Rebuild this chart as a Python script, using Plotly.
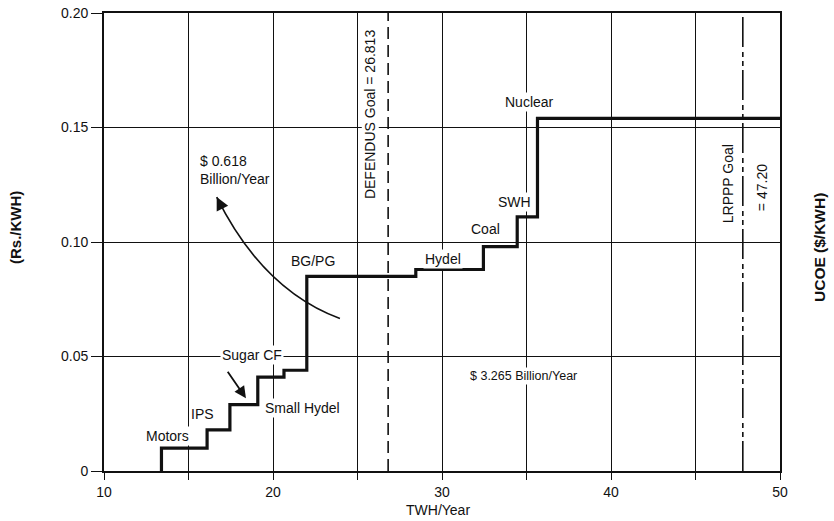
import plotly.graph_objects as go

# ---- data ----
step_starts = [13.4, 16.1, 17.45, 19.1, 20.65, 22.0, 28.45, 32.45, 34.45, 35.65]   # TWH/Year where each tier starts
step_levels = [0.010, 0.018, 0.029, 0.041, 0.044, 0.085, 0.088, 0.098, 0.111, 0.154]  # Rs./KWH
x_end = 50.0

defendus_goal = 26.813
lrppp_line_x = 47.8

x_tickvals = [10, 15, 20, 25, 30, 35, 40, 45, 50]
x_ticktext = ["10", "", "20", "", "30", "", "40", "", "50"]
y_tickvals = [0, 0.05, 0.10, 0.15, 0.20]
y_ticktext = ["0", "0.05", "0.10", "0.15", "0.20"]

# tier labels: (text, x, y)
tier_labels = [
    ("Motors", 13.77, 0.0155),
    ("IPS", 15.8, 0.0247),
    ("Sugar CF", 18.74, 0.0505),
    ("Small Hydel", 21.73, 0.0274),
    ("BG/PG", 22.35, 0.0917),
    ("Hydel", 30.05, 0.0927),
    ("Coal", 32.55, 0.1055),
    ("SWH", 34.3, 0.1175),
    ("Nuclear", 35.2, 0.1613),
]

# curved arrow (quadratic curve: start, control, tip)
curve_start = (23.96, 0.0666)
curve_ctrl = (19.4, 0.0790)
curve_tip = (16.67, 0.1196)

FONT = "Liberation Sans, Arial, Helvetica, sans-serif"
INK = "#111111"

W, H = 834, 521
ML, MR, MT, MB = 104, 54, 13, 50
PW, PH = W - ML - MR, H - MT - MB
PX0, PY0 = ML, MT + PH   # pixel of (x=10, y=0)


def paper_x(px):
    return (px - PX0) / PW


def paper_y(py):
    return (PY0 - py) / PH


step_x = [step_starts[0]] + step_starts + [x_end]
step_y = [0] + step_levels + [step_levels[-1]]

fig = go.Figure()

# dashed goal lines
fig.add_trace(go.Scatter(x=[defendus_goal, defendus_goal], y=[0, 0.2], mode="lines",
                         line=dict(color=INK, width=1.6, dash="12px,6px"), hoverinfo="skip"))
fig.add_trace(go.Scatter(x=[lrppp_line_x, lrppp_line_x], y=[0, 0.2], mode="lines",
                         line=dict(color=INK, width=1.6, dash="30px,4px,5px,4px,5px,5px"), hoverinfo="skip"))

# step supply curve
fig.add_trace(go.Scatter(x=step_x, y=step_y, mode="lines", line=dict(color=INK, width=3.2, shape="hv"),
                         hoverinfo="skip"))

# curved arrow body
fig.add_shape(type="path", xref="x", yref="y",
              path="M {} {} Q {} {} {} {}".format(curve_start[0], curve_start[1], curve_ctrl[0], curve_ctrl[1],
                                                  curve_tip[0], curve_tip[1]),
              line=dict(color=INK, width=1.6))

annotations = []
for text, x, y in tier_labels:
    annotations.append(dict(x=x, y=y, xref="x", yref="y", text=text, showarrow=False,
                            font=dict(family=FONT, size=14, color=INK), bgcolor="white", borderpad=1))

# Sugar CF arrow
annotations.append(dict(x=18.4, y=0.0318, ax=17.26, ay=0.0440, xref="x", yref="y", axref="x", ayref="y",
                        text="", showarrow=True, arrowhead=2, arrowsize=1.3, arrowwidth=1.8, arrowcolor=INK))
# curved arrow head (along end tangent)
tail_x = curve_tip[0] - 0.12 * (curve_tip[0] - curve_ctrl[0])
tail_y = curve_tip[1] - 0.12 * (curve_tip[1] - curve_ctrl[1])
annotations.append(dict(x=curve_tip[0], y=curve_tip[1], ax=tail_x, ay=tail_y, xref="x", yref="y",
                        axref="x", ayref="y", text="", showarrow=True, arrowhead=2, arrowsize=1.6,
                        arrowwidth=1.6, arrowcolor=INK))

annotations += [
    dict(x=15.62, y=0.1315, xref="x", yref="y", text="$ 0.618<br>Billion/Year", showarrow=False,
         xanchor="left", align="left", font=dict(family=FONT, size=14, color=INK), bgcolor="white", borderpad=0),
    dict(x=34.85, y=0.0415, xref="x", yref="y", text="$ 3.265 Billion/Year", showarrow=False,
         font=dict(family=FONT, size=12.5, color=INK), bgcolor="white", borderpad=1),
    dict(x=25.75, y=0.1555, xref="x", yref="y", text="DEFENDUS Goal = 26.813", textangle=-90, showarrow=False,
         font=dict(family=FONT, size=14, color=INK), bgcolor="white", borderpad=0),
    dict(x=46.9, y=0.1255, xref="x", yref="y", text="LRPPP Goal", textangle=-90, showarrow=False,
         font=dict(family=FONT, size=14, color=INK), bgcolor="white", borderpad=0),
    dict(x=48.9, y=0.1237, xref="x", yref="y", text="= 47.20", textangle=-90, showarrow=False,
         font=dict(family=FONT, size=14, color=INK), bgcolor="white", borderpad=0),
    # axis titles
    dict(x=paper_x(438), y=paper_y(510), xref="paper", yref="paper", text="TWH/Year",
         xanchor="center", yanchor="middle", showarrow=False, font=dict(family=FONT, size=14, color=INK)),
    dict(x=paper_x(15), y=paper_y(228), xref="paper", yref="paper", text="<b>(Rs./KWH)</b>",
         xanchor="center", yanchor="middle", textangle=-90, showarrow=False,
         font=dict(family=FONT, size=15, color=INK)),
    dict(x=paper_x(820), y=paper_y(248), xref="paper", yref="paper", text="<b>UCOE ($/KWH)</b>",
         xanchor="center", yanchor="middle", textangle=-90, showarrow=False,
         font=dict(family=FONT, size=15.5, color=INK)),
]

fig.update_layout(
    width=W, height=H,
    margin=dict(l=ML, r=MR, t=MT, b=MB),
    paper_bgcolor="white", plot_bgcolor="white",
    showlegend=False,
    annotations=annotations,
    font=dict(family=FONT, size=14, color=INK),
)
fig.update_xaxes(range=[10, 50], tickvals=x_tickvals, ticktext=x_ticktext, showgrid=True, gridcolor=INK,
                 gridwidth=1.4, showline=True, linecolor=INK, linewidth=1.8, mirror=True, ticks="outside",
                 ticklen=7, tickwidth=1.4, tickcolor=INK, zeroline=False, automargin=False,
                 ticklabeloverflow="allow", tickfont=dict(family=FONT, size=14, color=INK))
fig.update_yaxes(range=[0, 0.2], tickvals=y_tickvals, ticktext=y_ticktext, showgrid=True, gridcolor=INK,
                 gridwidth=1.4, showline=True, linecolor=INK, linewidth=1.8, mirror=True, ticks="outside",
                 ticklen=11, tickwidth=1.4, tickcolor=INK, zeroline=False, automargin=False,
                 ticklabeloverflow="allow", tickfont=dict(family=FONT, size=14, color=INK))

# remove the browser's default 8px page margin so the figure fills the window exactly
fig.write_html("out.html", config={"displayModeBar": False},
               post_script="document.body.style.margin='0';document.body.style.overflow='hidden';")
